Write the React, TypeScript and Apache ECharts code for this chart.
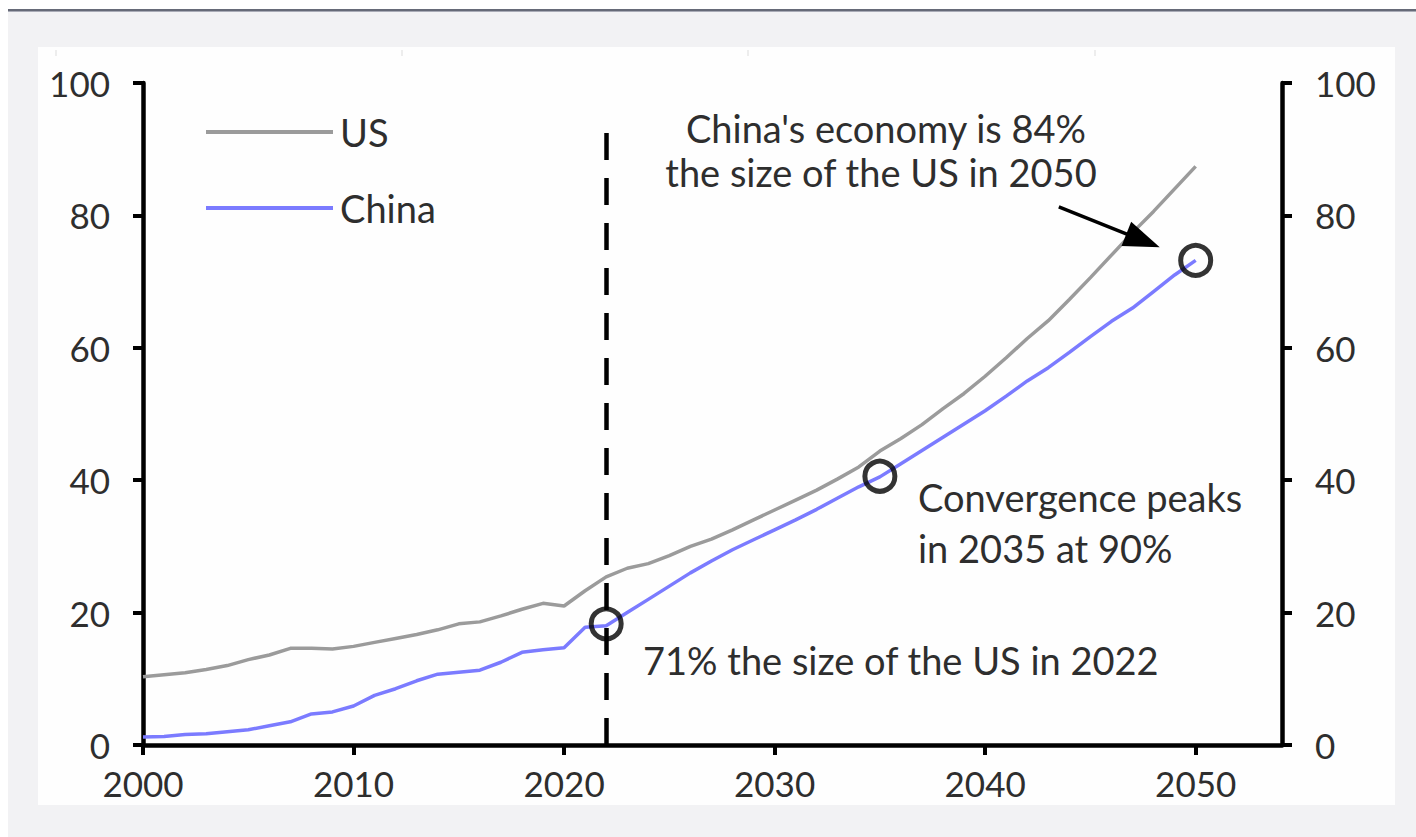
import React, { useEffect, useRef } from "react";
import * as echarts from "echarts";

const years = [
  2000, 2001, 2002, 2003, 2004, 2005, 2006, 2007, 2008, 2009,
  2010, 2011, 2012, 2013, 2014, 2015, 2016, 2017, 2018, 2019,
  2020, 2021, 2022, 2023, 2024, 2025, 2026, 2027, 2028, 2029,
  2030, 2031, 2032, 2033, 2034, 2035, 2036, 2037, 2038, 2039,
  2040, 2041, 2042, 2043, 2044, 2045, 2046, 2047, 2048, 2049, 2050,
];

const usValues = [
  10.3, 10.6, 10.9, 11.4, 12.0, 12.9, 13.6, 14.6, 14.6, 14.5,
  14.9, 15.5, 16.1, 16.7, 17.4, 18.3, 18.6, 19.5, 20.5, 21.4,
  21.0, 23.3, 25.4, 26.7, 27.4, 28.6, 30.0, 31.1, 32.5, 34.0,
  35.5, 37.0, 38.5, 40.2, 42.0, 44.4, 46.3, 48.4, 50.8, 53.1,
  55.7, 58.5, 61.4, 64.1, 67.3, 70.6, 74.0, 77.4, 80.6, 84.0, 87.4,
];

const chinaValues = [
  1.2, 1.3, 1.6, 1.7, 2.0, 2.3, 2.9, 3.5, 4.7, 5.0,
  5.9, 7.5, 8.5, 9.7, 10.7, 11.0, 11.3, 12.5, 14.0, 14.4,
  14.7, 17.8, 18.0, 20.0, 22.0, 24.0, 26.0, 27.8, 29.5, 31.0,
  32.5, 34.0, 35.6, 37.3, 39.0, 40.5, 42.5, 44.5, 46.5, 48.5,
  50.5, 52.7, 55.0, 57.0, 59.3, 61.7, 64.0, 66.0, 68.5, 71.0, 73.2,
];

const highlightPoints: [number, number][] = [
  [2022, 18.3],
  [2035, 40.6],
  [2050, 73.2],
];

const xTicks = [2000, 2010, 2020, 2030, 2040, 2050];
const dashedLineYear = 2022;
const dashedLineTop = 93;
const arrowFrom: [number, number] = [2043.5, 81.3];
const arrowTo: [number, number] = [2047.5, 76.2];

const FONT = "Lato";
const TEXT_COLOR = "#2e2e2e";

export default function App() {
  const ref = useRef<HTMLDivElement>(null);

  useEffect(() => {
    if (!ref.current) return;
    const chart = echarts.init(ref.current, null, { renderer: "svg" });

    const axisLine = { show: true, lineStyle: { color: "#000", width: 4.5 } };
    const axisTick = { show: true, length: 10, lineStyle: { color: "#000", width: 4 } };
    const axisLabelBase = {
      color: TEXT_COLOR,
      fontFamily: FONT,
      fontSize: 35,
    };

    const annText = (text: string, x: number, y: number, align: string) => ({
      type: "text",
      x,
      y,
      z: 50,
      style: {
        text,
        fill: TEXT_COLOR,
        font: `38px ${FONT}`,
        textAlign: align,
        textVerticalAlign: "middle",
      },
    });

    const topMarks = [56, 402, 748, 1095].map((x) => ({
      type: "line",
      z: -9,
      shape: { x1: x, y1: 50, x2: x, y2: 56 },
      style: { stroke: "#dcdcdc", lineWidth: 1 },
    }));

    chart.setOption({
      animation: false,
      backgroundColor: "#ffffff",
      grid: { left: 143, right: 134, top: 83, bottom: 92, containLabel: false },
      legend: {
        data: ["US", "China"],
        orient: "vertical",
        left: 201,
        top: 105,
        icon: "rect",
        itemWidth: 127,
        itemHeight: 4,
        itemGap: 32,
        textStyle: { color: TEXT_COLOR, fontFamily: FONT, fontSize: 38, lineHeight: 44, padding: [0, 0, 0, 2] },
        selectedMode: false,
      },
      xAxis: {
        type: "value",
        min: 2000,
        max: 2054.1,
        interval: 10,
        splitLine: { show: false },
        axisLine,
        axisTick: { ...axisTick, customValues: xTicks },
        axisLabel: { ...axisLabelBase, margin: 20, customValues: xTicks, formatter: (v: number) => String(v) },
      },
      yAxis: [
        {
          type: "value",
          position: "left",
          min: 0,
          max: 100,
          interval: 20,
          splitLine: { show: false },
          axisLine,
          axisTick,
          axisLabel: { ...axisLabelBase, margin: 33 },
        },
        {
          type: "value",
          position: "right",
          min: 0,
          max: 100,
          interval: 20,
          splitLine: { show: false },
          axisLine,
          axisTick,
          axisLabel: { ...axisLabelBase, margin: 33 },
        },
      ],
      graphic: [
        { type: "rect", z: -10, shape: { x: 0, y: 0, width: 1416, height: 837 }, style: { fill: "#ffffff" } },
        { type: "rect", z: -10, shape: { x: 8, y: 11, width: 1408, height: 826 }, style: { fill: "#f2f2f4" } },
        { type: "rect", z: -10, shape: { x: 8, y: 9, width: 1408, height: 2 }, style: { fill: "#666a78" } },
        { type: "rect", z: -10, shape: { x: 8, y: 11, width: 1408, height: 1 }, style: { fill: "#a9abb6" } },
        { type: "rect", z: -10, shape: { x: 38, y: 47, width: 1357, height: 758 }, style: { fill: "#fefefe" } },
        ...topMarks,
        annText("China's economy is 84%", 886, 128, "center"),
        annText("the size of the US in 2050", 881, 172, "center"),
        annText("Convergence peaks", 918, 497, "left"),
        annText("in 2035 at 90%", 918, 548, "left"),
        annText("71% the size of the US in 2022", 643, 660, "left"),
      ],
      series: [
        {
          name: "US",
          type: "line",
          data: years.map((y, i) => [y, usValues[i]]),
          showSymbol: false,
          symbol: "none",
          lineStyle: { color: "#9b9b9b", width: 3.5 },
          itemStyle: { color: "#9b9b9b" },
          z: 3,
        },
        {
          name: "China",
          type: "line",
          data: years.map((y, i) => [y, chinaValues[i]]),
          showSymbol: false,
          symbol: "none",
          lineStyle: { color: "#7b7bff", width: 3.5 },
          itemStyle: { color: "#7b7bff" },
          z: 4,
        },
        {
          name: "highlights",
          type: "scatter",
          data: highlightPoints,
          symbol: "circle",
          symbolSize: 30,
          itemStyle: { color: "rgba(0,0,0,0)", borderColor: "#000", borderWidth: 5 },
          z: 6,
          silent: true,
          markLine: {
            silent: true,
            animation: false,
            label: { show: false },
            data: [
              [
                { coord: [dashedLineYear, 0], symbol: "none", lineStyle: { color: "#000", width: 4.5, type: [27, 18] } },
                { coord: [dashedLineYear, dashedLineTop], symbol: "none" },
              ],
              [
                { coord: arrowFrom, symbol: "none", lineStyle: { color: "#000", width: 3.5, type: "solid" } },
                { coord: arrowTo, symbol: "triangle", symbolSize: [26, 36] },
              ],
            ],
          },
        },
      ],
    });

    return () => chart.dispose();
  }, []);

  return (
    <div
      ref={ref}
      style={{ position: "fixed", left: 0, top: 0, width: 1416, height: 837 }}
    />
  );
}
